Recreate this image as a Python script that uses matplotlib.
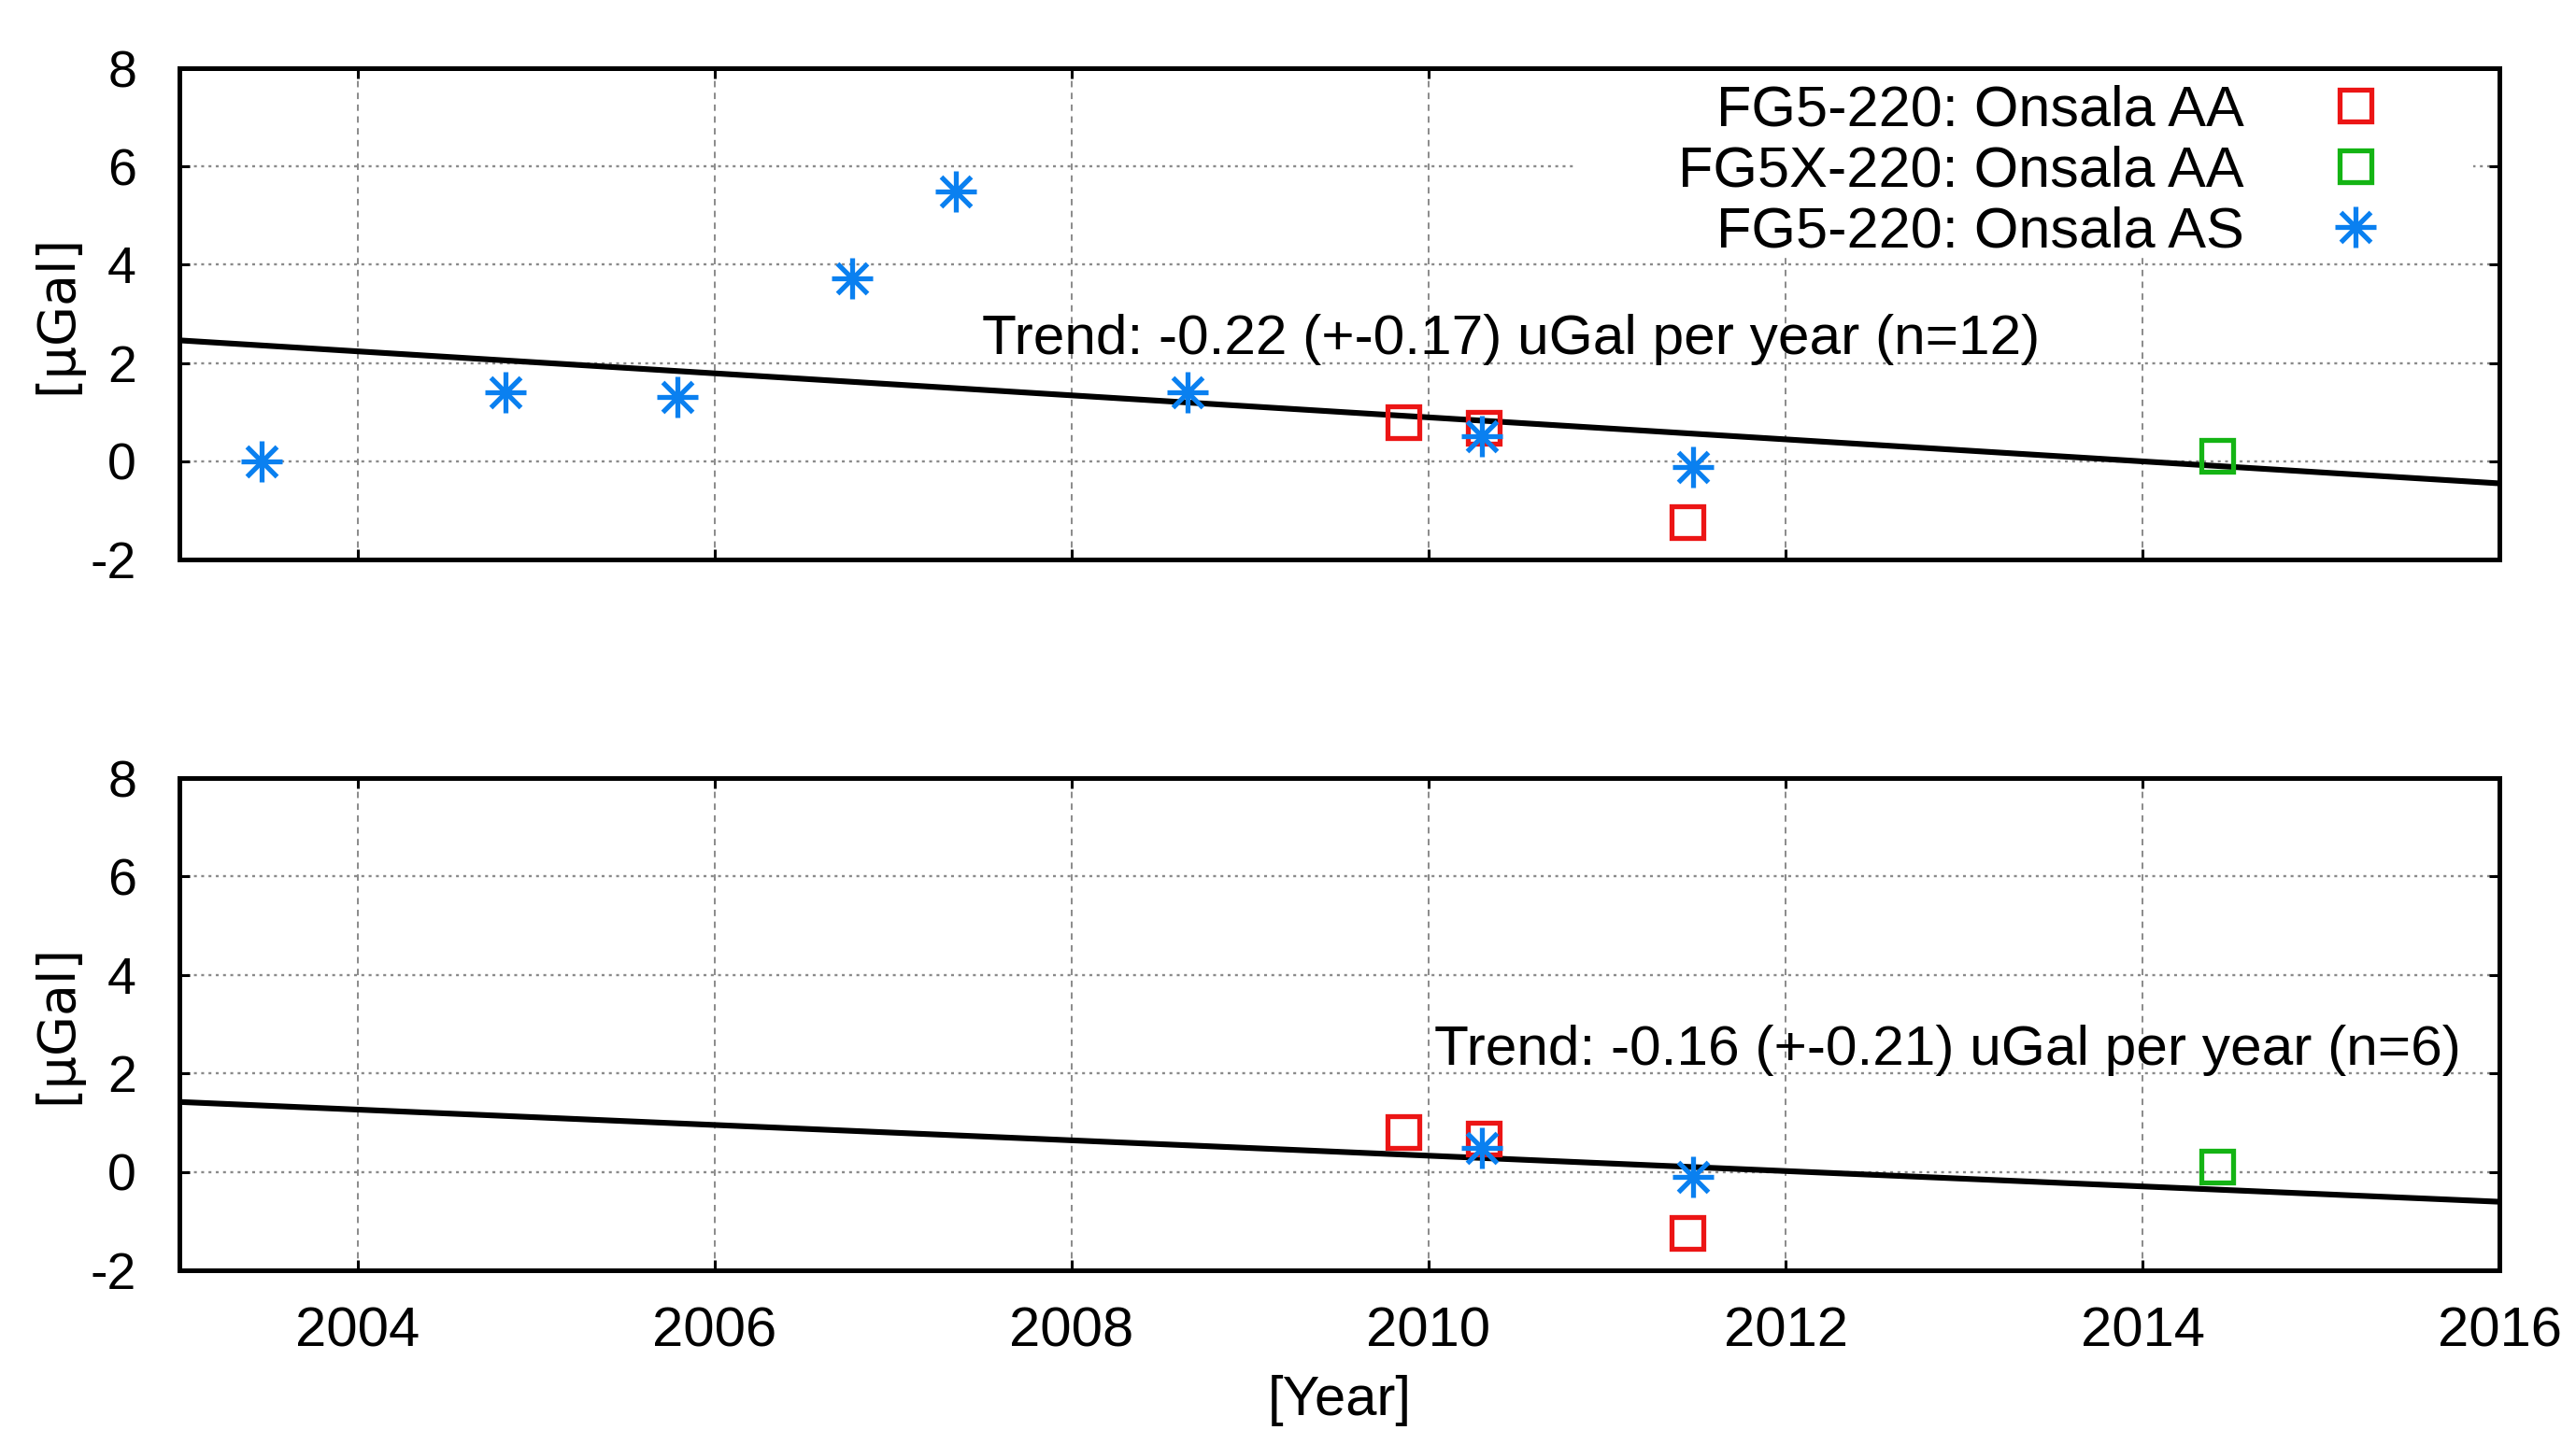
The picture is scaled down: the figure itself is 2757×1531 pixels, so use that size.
import numpy as np
import matplotlib
matplotlib.use('Agg')
import matplotlib.pyplot as plt
from matplotlib.patches import Rectangle

plt.rcParams['font.family'] = ['Liberation Sans', 'DejaVu Sans']
plt.rcParams['axes.unicode_minus'] = False

# FG5-220: Onsala AS (all epochs)
as_year = [2003.46, 2004.83, 2005.79, 2006.77, 2007.35, 2008.65, 2010.30, 2011.48]
as_val = [0.0, 1.40, 1.31, 3.72, 5.49, 1.40, 0.50, -0.11]
# AS epochs used in the lower panel
as_year_sub = [2010.30, 2011.48]
as_val_sub = [0.49, -0.11]
# FG5-220: Onsala AA
aa_year = [2009.86, 2010.31, 2011.45]
aa_val = [0.80, 0.68, -1.24]
# FG5X-220: Onsala AA
aax_year = [2014.42]
aax_val = [0.10]

# trend lines: value at 2003 and slope (uGal / year)
trend_top = (2.46, -0.224)
trend_bot = (1.42, -0.156)
trend_txt_top = 'Trend: -0.22 (+-0.17) uGal per year (n=12)'
trend_txt_bot = 'Trend: -0.16 (+-0.21) uGal per year (n=6)'

xticks = [2004, 2006, 2008, 2010, 2012, 2014, 2016]
yticks = [-2, 0, 2, 4, 6, 8]

c_red = '#ec1515'
c_green = '#14b414'
c_blue = '#0a80f0'
c_grid = '#8a8a8a'

fig = plt.figure(figsize=(27.57, 15.31), dpi=100)
ax1 = fig.add_axes([0.0696, 0.6088, 0.9007, 0.3435])
ax2 = fig.add_axes([0.0696, 0.1117, 0.9007, 0.3442])


def style_axes(ax, show_xlabels):
    ax.set_xlim(2003, 2016)
    ax.set_ylim(-2, 8)
    ax.set_xticks(xticks)
    ax.set_yticks(yticks)
    ax.set_axisbelow(True)
    ax.xaxis.grid(True, color=c_grid, lw=1.4, linestyle=(0, (3.5, 3)))
    ax.yaxis.grid(True, color=c_grid, lw=1.7, linestyle=(0, (1.3, 2.0)))
    ax.tick_params(direction='in', length=8, width=2.2, top=True, right=True,
                   colors='black')
    ax.tick_params(axis='x', labelsize=43, pad=28, labelbottom=show_xlabels)
    ax.tick_params(axis='y', labelsize=40, pad=33)
    for s in ax.spines.values():
        s.set_linewidth(3.6)
    ax.set_ylabel('[μGal]', fontsize=40, family='DejaVu Sans', labelpad=6)


def draw_trend(ax, trend):
    x = np.array(ax.get_xlim())
    ax.plot(x, trend[0] + trend[1] * (x - 2003), color='black', lw=4.4, zorder=2,
            solid_capstyle='butt')


def draw_stars(ax, xs, ys):
    p = ax.plot(xs, ys, linestyle='none', marker='+', ms=31, mew=3.8, color=c_blue, zorder=4)[0]
    q = ax.plot(xs, ys, linestyle='none', marker='x', ms=23, mew=3.8, color=c_blue, zorder=4)[0]
    return p, q


def draw_squares(ax, xs, ys, col):
    return ax.plot(xs, ys, linestyle='none', marker='s', ms=25, mew=3.8,
                   markerfacecolor='none', markeredgecolor=col, zorder=3)[0]


# upper panel
style_axes(ax1, False)
ax1.add_patch(Rectangle((0.6025, 0.615), 0.386, 0.385, transform=ax1.transAxes,
                        facecolor='white', edgecolor='none', zorder=1))
draw_trend(ax1, trend_top)
h_aa = draw_squares(ax1, aa_year, aa_val, c_red)
h_aax = draw_squares(ax1, aax_year, aax_val, c_green)
h_as = draw_stars(ax1, as_year, as_val)
ax1.text(2007.5, 2.18, trend_txt_top, fontsize=43.5, ha='left', va='baseline', zorder=5)
ax1.legend([h_aa, h_aax, h_as],
           ['FG5-220: Onsala AA', 'FG5X-220: Onsala AA', 'FG5-220: Onsala AS'],
           loc='upper right', bbox_to_anchor=(0.955, 0.99), frameon=False,
           markerfirst=False, fontsize=44, handlelength=1.0, handletextpad=1.45,
           labelspacing=0.13, borderpad=0.2, borderaxespad=0)

# lower panel
style_axes(ax2, True)
draw_trend(ax2, trend_bot)
draw_squares(ax2, aa_year, aa_val, c_red)
draw_squares(ax2, aax_year, aax_val, c_green)
draw_stars(ax2, as_year_sub, as_val_sub)
ax2.text(2010.03, 2.18, trend_txt_bot, fontsize=43.5, ha='left', va='baseline', zorder=5)
ax2.set_xlabel('[Year]', fontsize=43, labelpad=13)

fig.savefig('out.png', dpi=100)
